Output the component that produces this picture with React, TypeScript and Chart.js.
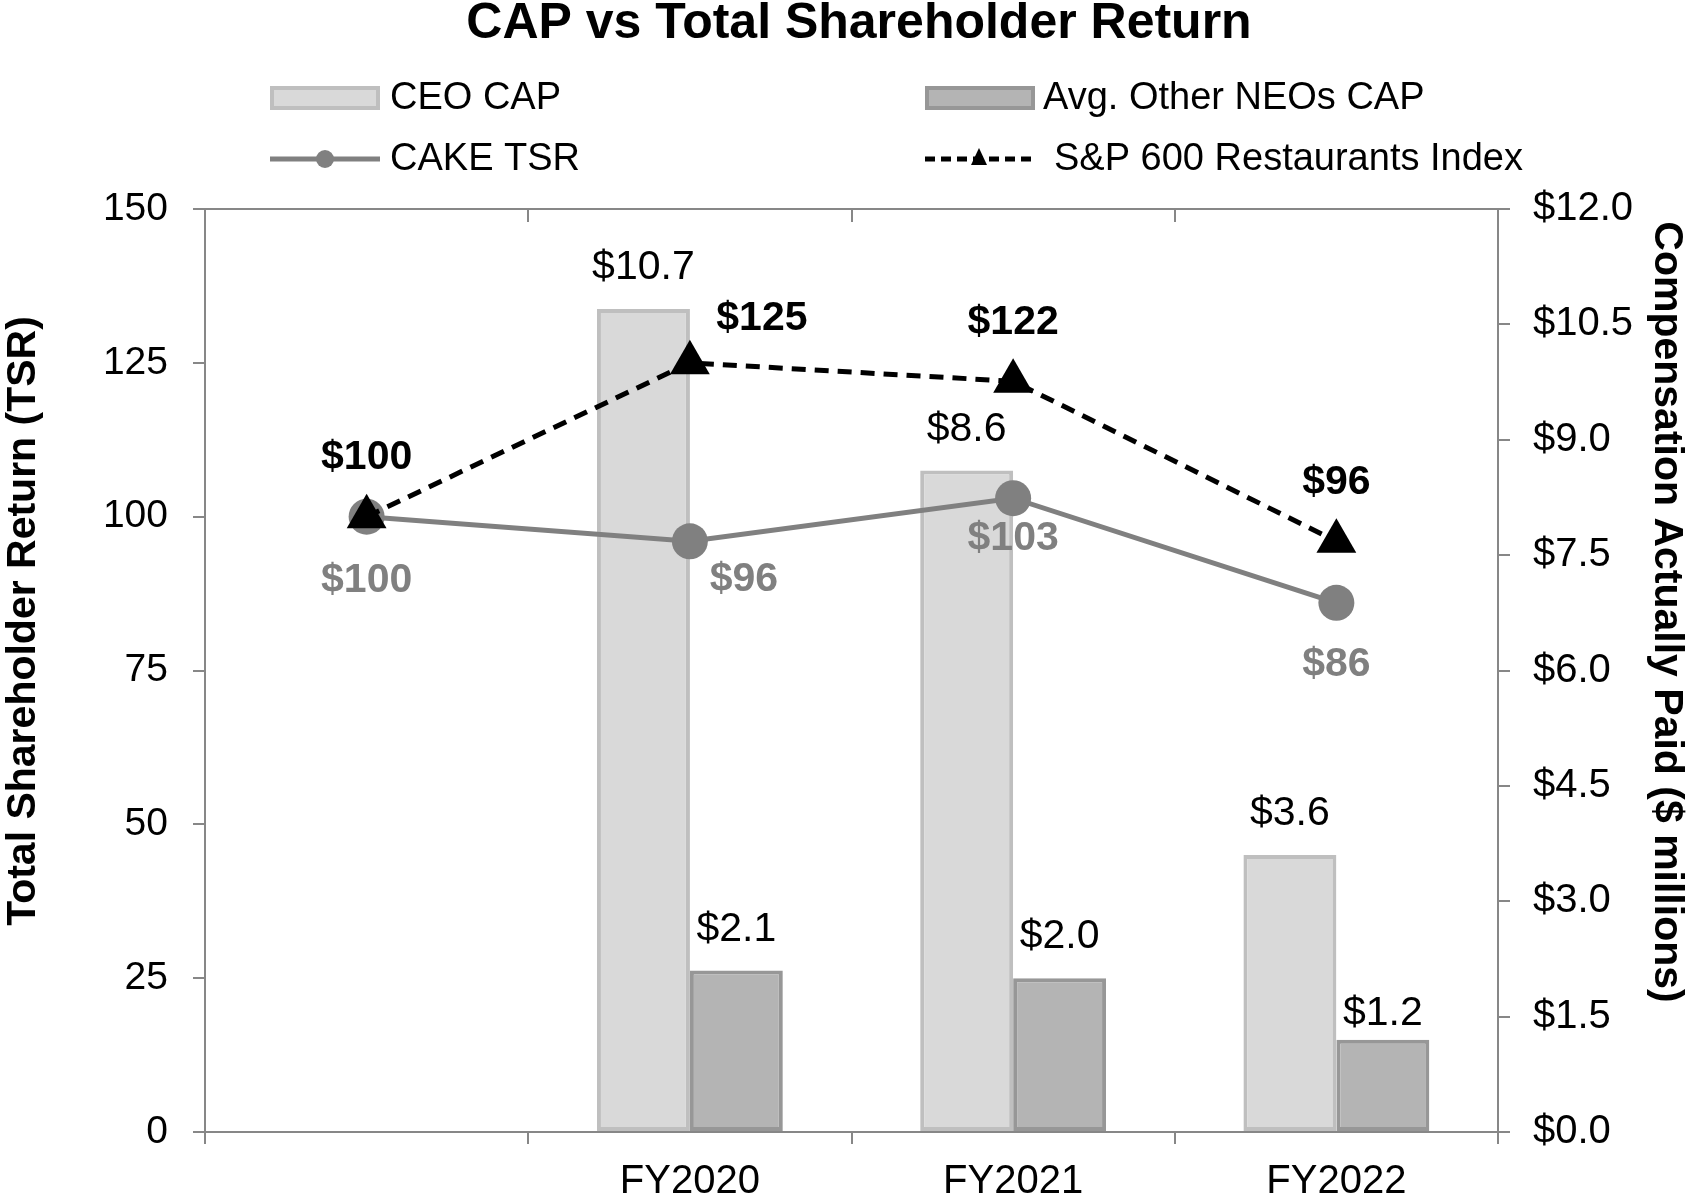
import React, { useEffect, useRef } from 'react';
import { Chart, registerables } from 'chart.js';

Chart.register(...registerables);

// ---- data ----
const categories = ['', 'FY2020', 'FY2021', 'FY2022'];
const ceoCap: (number | null)[] = [null, 10.7, 8.6, 3.6];
const neoCap: (number | null)[] = [null, 2.1, 2.0, 1.2];
const cakeTsr = [100, 96, 103, 86];
const spIndex = [100, 125, 122, 96];
const leftAxis = { min: 0, max: 150, step: 25 };
const rightAxis = { min: 0, max: 12, step: 1.5 };

const titleText = 'CAP vs Total Shareholder Return';
const leftTitle = 'Total Shareholder Return (TSR)';
const rightTitle = 'Compensation Actually Paid ($ millions)';

const FONT = "'Liberation Sans', Arial, sans-serif";
const AXIS_GRAY = '#878787';
const LINE_GRAY = '#808080';

// label nudges (pixels) relative to each mark
const spNudge = [[0, -59], [72, -44], [0, -59], [0, -59]];
const cakeNudge = [[0, 64], [54, 38], [0, 40], [0, 62]];
const ceoNudge = [-41, -41, -41, -41];
const neoNudge = [-41, -41, -41, -26];

const decorPlugin = {
  id: 'decor',
  afterDatasetsDraw(chart: any) {
    const ctx = chart.ctx as CanvasRenderingContext2D;
    ctx.save();
    ctx.textAlign = 'center';
    ctx.textBaseline = 'middle';
    const drawSet = (dsIndex: number, values: (number | null)[], fmt: (v: number) => string, font: string, color: string, nudge: (i: number) => number[]) => {
      const meta = chart.getDatasetMeta(dsIndex);
      ctx.font = font;
      ctx.fillStyle = color;
      meta.data.forEach((el: any, i: number) => {
        const v = values[i];
        if (v === null || v === undefined) return;
        const [dx, dy] = nudge(i);
        ctx.fillText(fmt(v), el.x + dx, el.y + dy);
      });
    };
    drawSet(0, ceoCap, (v) => '$' + v.toFixed(1), `41px ${FONT}`, '#000', (i) => [0, ceoNudge[i]]);
    drawSet(1, neoCap, (v) => '$' + v.toFixed(1), `41px ${FONT}`, '#000', (i) => [0, neoNudge[i]]);
    drawSet(2, cakeTsr, (v) => '$' + v, `bold 41px ${FONT}`, LINE_GRAY, (i) => cakeNudge[i]);
    drawSet(3, spIndex, (v) => '$' + v, `bold 41px ${FONT}`, '#000', (i) => spNudge[i]);
    ctx.restore();
  },
  afterDraw(chart: any) {
    const ctx = chart.ctx as CanvasRenderingContext2D;
    const { left, right, top } = chart.chartArea;
    const xs = chart.scales.x;
    ctx.save();
    // top border with inward ticks at category boundaries
    ctx.strokeStyle = AXIS_GRAY;
    ctx.lineWidth = 2;
    ctx.beginPath();
    ctx.moveTo(left, top);
    ctx.lineTo(right, top);
    const half = (xs.getPixelForValue(1) - xs.getPixelForValue(0)) / 2;
    for (let i = 1; i < categories.length; i++) {
      const px = Math.round(xs.getPixelForValue(i) - half);
      ctx.moveTo(px, top);
      ctx.lineTo(px, top + 13);
    }
    ctx.stroke();

    // title
    ctx.fillStyle = '#000';
    ctx.textAlign = 'center';
    ctx.textBaseline = 'alphabetic';
    ctx.font = `bold 50px ${FONT}`;
    ctx.fillText(titleText, 859, 38);

    // axis titles
    ctx.font = `bold 41px ${FONT}`;
    ctx.textBaseline = 'middle';
    ctx.save();
    ctx.translate(24, 621);
    ctx.rotate(-Math.PI / 2);
    ctx.fillText(leftTitle, 0, 0);
    ctx.restore();
    ctx.save();
    ctx.translate(1666, 612);
    ctx.rotate(Math.PI / 2);
    ctx.fillText(rightTitle, 0, 0);
    ctx.restore();

    // legend
    const ds = chart.data.datasets;
    ctx.font = `38px ${FONT}`;
    ctx.textAlign = 'left';
    ctx.textBaseline = 'middle';
    const box = (x: number, y: number, fill: string, border: string) => {
      ctx.fillStyle = border;
      ctx.fillRect(x, y - 12, 110, 24);
      ctx.fillStyle = fill;
      ctx.fillRect(x + 4, y - 8, 102, 16);
    };
    box(270, 98, ds[0].backgroundColor, ds[0].borderColor);
    box(925, 98, ds[1].backgroundColor, ds[1].borderColor);
    ctx.fillStyle = '#000';
    ctx.fillText(ds[0].label, 390, 99);
    ctx.fillText(ds[1].label, 1043, 99);

    // CAKE TSR legend
    ctx.strokeStyle = ds[2].borderColor;
    ctx.lineWidth = 5;
    ctx.beginPath();
    ctx.moveTo(270, 159);
    ctx.lineTo(380, 159);
    ctx.stroke();
    ctx.fillStyle = ds[2].pointBackgroundColor;
    ctx.beginPath();
    ctx.arc(325, 159, 9, 0, Math.PI * 2);
    ctx.fill();
    // S&P legend
    ctx.strokeStyle = '#000';
    ctx.setLineDash([10, 6]);
    ctx.beginPath();
    ctx.moveTo(925, 159);
    ctx.lineTo(1033, 159);
    ctx.stroke();
    ctx.setLineDash([]);
    ctx.fillStyle = '#000';
    ctx.beginPath();
    ctx.moveTo(979, 148);
    ctx.lineTo(987, 165);
    ctx.lineTo(971, 165);
    ctx.closePath();
    ctx.fill();
    ctx.fillStyle = '#000';
    ctx.fillText(ds[2].label, 390, 160);
    ctx.fillText(ds[3].label, 1054, 160);
    ctx.restore();
  },
};

export default function App() {
  const ref = useRef<HTMLCanvasElement>(null);
  useEffect(() => {
    if (!ref.current) return;
    document.body.style.margin = '0';
    const chart = new Chart(ref.current, {
      type: 'bar',
      data: {
        labels: categories,
        datasets: [
          {
            type: 'bar',
            label: 'CEO CAP',
            data: ceoCap,
            yAxisID: 'y1',
            backgroundColor: '#d9d9d9',
            borderColor: '#bfbfbf',
            borderWidth: 4,
            borderSkipped: false,
            categoryPercentage: 0.575,
            barPercentage: 1.0,
            order: 3,
          },
          {
            type: 'bar',
            label: 'Avg. Other NEOs CAP',
            data: neoCap,
            yAxisID: 'y1',
            backgroundColor: '#b4b4b4',
            borderColor: '#979797',
            borderWidth: 4,
            borderSkipped: false,
            categoryPercentage: 0.575,
            barPercentage: 1.0,
            order: 3,
          },
          {
            type: 'line',
            label: 'CAKE TSR',
            data: cakeTsr,
            yAxisID: 'y',
            borderColor: LINE_GRAY,
            borderWidth: 5,
            pointStyle: 'circle',
            pointRadius: 18,
            pointBackgroundColor: LINE_GRAY,
            pointBorderWidth: 0,
            tension: 0,
            order: 2,
          },
          {
            type: 'line',
            label: 'S&P 600 Restaurants Index',
            data: spIndex,
            yAxisID: 'y',
            borderColor: '#000',
            borderWidth: 5,
            borderDash: [14, 9],
            pointStyle: 'triangle',
            pointRadius: 23,
            pointBackgroundColor: '#000',
            pointBorderWidth: 0,
            tension: 0,
            order: 1,
          },
        ] as any,
      },
      options: {
        animation: false,
        responsive: false,
        maintainAspectRatio: false,
        layout: { padding: { top: 209, left: 0, right: 0, bottom: 0 } },
        plugins: {
          legend: { display: false },
          title: { display: false },
          tooltip: { enabled: false },
        },
        scales: {
          x: {
            type: 'category',
            offset: true,
            grid: { offset: true, drawOnChartArea: false, drawTicks: true, tickLength: 12, color: AXIS_GRAY, lineWidth: 2 },
            border: { display: true, color: AXIS_GRAY, width: 2 },
            ticks: { color: '#000', font: { family: FONT, size: 40, lineHeight: 1.2 }, padding: 14, maxRotation: 0, autoSkip: false },
            afterFit: (s: any) => { s.height = 62; },
          },
          y: {
            position: 'left',
            min: leftAxis.min,
            max: leftAxis.max,
            grid: { drawOnChartArea: false, drawTicks: true, tickLength: 12, color: AXIS_GRAY, lineWidth: 2 },
            border: { display: true, color: AXIS_GRAY, width: 2 },
            ticks: { stepSize: leftAxis.step, color: '#000', font: { family: FONT, size: 39 }, padding: 25 },
            afterFit: (s: any) => { s.width = 205; },
          },
          y1: {
            position: 'right',
            min: rightAxis.min,
            max: rightAxis.max,
            grid: { drawOnChartArea: false, drawTicks: true, tickLength: 12, color: AXIS_GRAY, lineWidth: 2 },
            border: { display: true, color: AXIS_GRAY, width: 2 },
            ticks: {
              stepSize: rightAxis.step,
              color: '#000',
              font: { family: FONT, size: 40 },
              padding: 23,
              callback: (v: any) => '$' + Number(v).toFixed(1),
            },
            afterFit: (s: any) => { s.width = 192; },
          },
        },
      } as any,
      plugins: [decorPlugin],
    });
    return () => chart.destroy();
  }, []);
  return (
    <div style={{ position: 'absolute', left: 0, top: 0, width: 1690, height: 1194, background: '#fff' }}>
      <canvas ref={ref} width={1690} height={1194} style={{ display: 'block' }} />
    </div>
  );
}
